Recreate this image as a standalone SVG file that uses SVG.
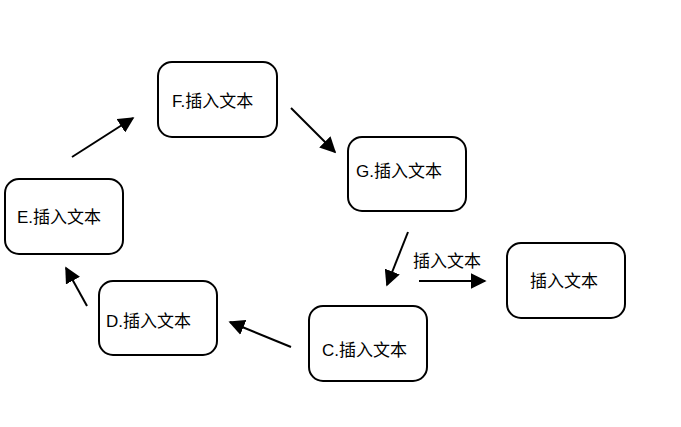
<svg xmlns="http://www.w3.org/2000/svg" width="681" height="427" viewBox="0 0 681 427">
<style>
.n{fill:#fff;stroke:#000;stroke-width:2}
.t{font-family:"Liberation Sans","Noto Sans CJK SC",sans-serif;font-size:17px;fill:#000}
.c{stroke:#000;stroke-width:2;fill:none;marker-end:url(#a)}
</style>
<defs><marker id="a" viewBox="0 0 10 10" refX="9" refY="5" markerWidth="8" markerHeight="8" orient="auto" markerUnits="strokeWidth"><path d="M0,0L10,5L0,10z" fill="#000"/></marker></defs>
<rect width="681" height="427" fill="#fff"/>
<g id="F"><rect class="n" x="158" y="62" width="119" height="75" rx="14"/><text class="t" x="172" y="107">F.插入文本</text></g>
<g id="G"><rect class="n" x="348" y="137" width="118" height="74" rx="14"/><text class="t" x="356" y="177">G.插入文本</text></g>
<g id="E"><rect class="n" x="5" y="179" width="118" height="75" rx="14"/><text class="t" x="17" y="223">E.插入文本</text></g>
<g id="D"><rect class="n" x="99" y="281" width="118" height="74" rx="14"/><text class="t" x="106" y="327">D.插入文本</text></g>
<g id="C"><rect class="n" x="309" y="306" width="118" height="75" rx="14"/><text class="t" x="322" y="356">C.插入文本</text></g>
<g id="R"><rect class="n" x="507" y="243" width="118" height="75" rx="14"/><text class="t" x="530" y="287">插入文本</text></g>
<g id="connectors">
<line class="c" x1="72" y1="157" x2="133" y2="118"/>
<line class="c" x1="291" y1="108" x2="335" y2="152"/>
<line class="c" x1="408" y1="232" x2="387" y2="285"/>
<line class="c" x1="291" y1="347" x2="230" y2="322"/>
<line class="c" x1="87" y1="306" x2="66" y2="268"/>
<line class="c" x1="419" y1="281" x2="485" y2="281"/>
<text class="t" x="413" y="267">插入文本</text>
</g>
</svg>
